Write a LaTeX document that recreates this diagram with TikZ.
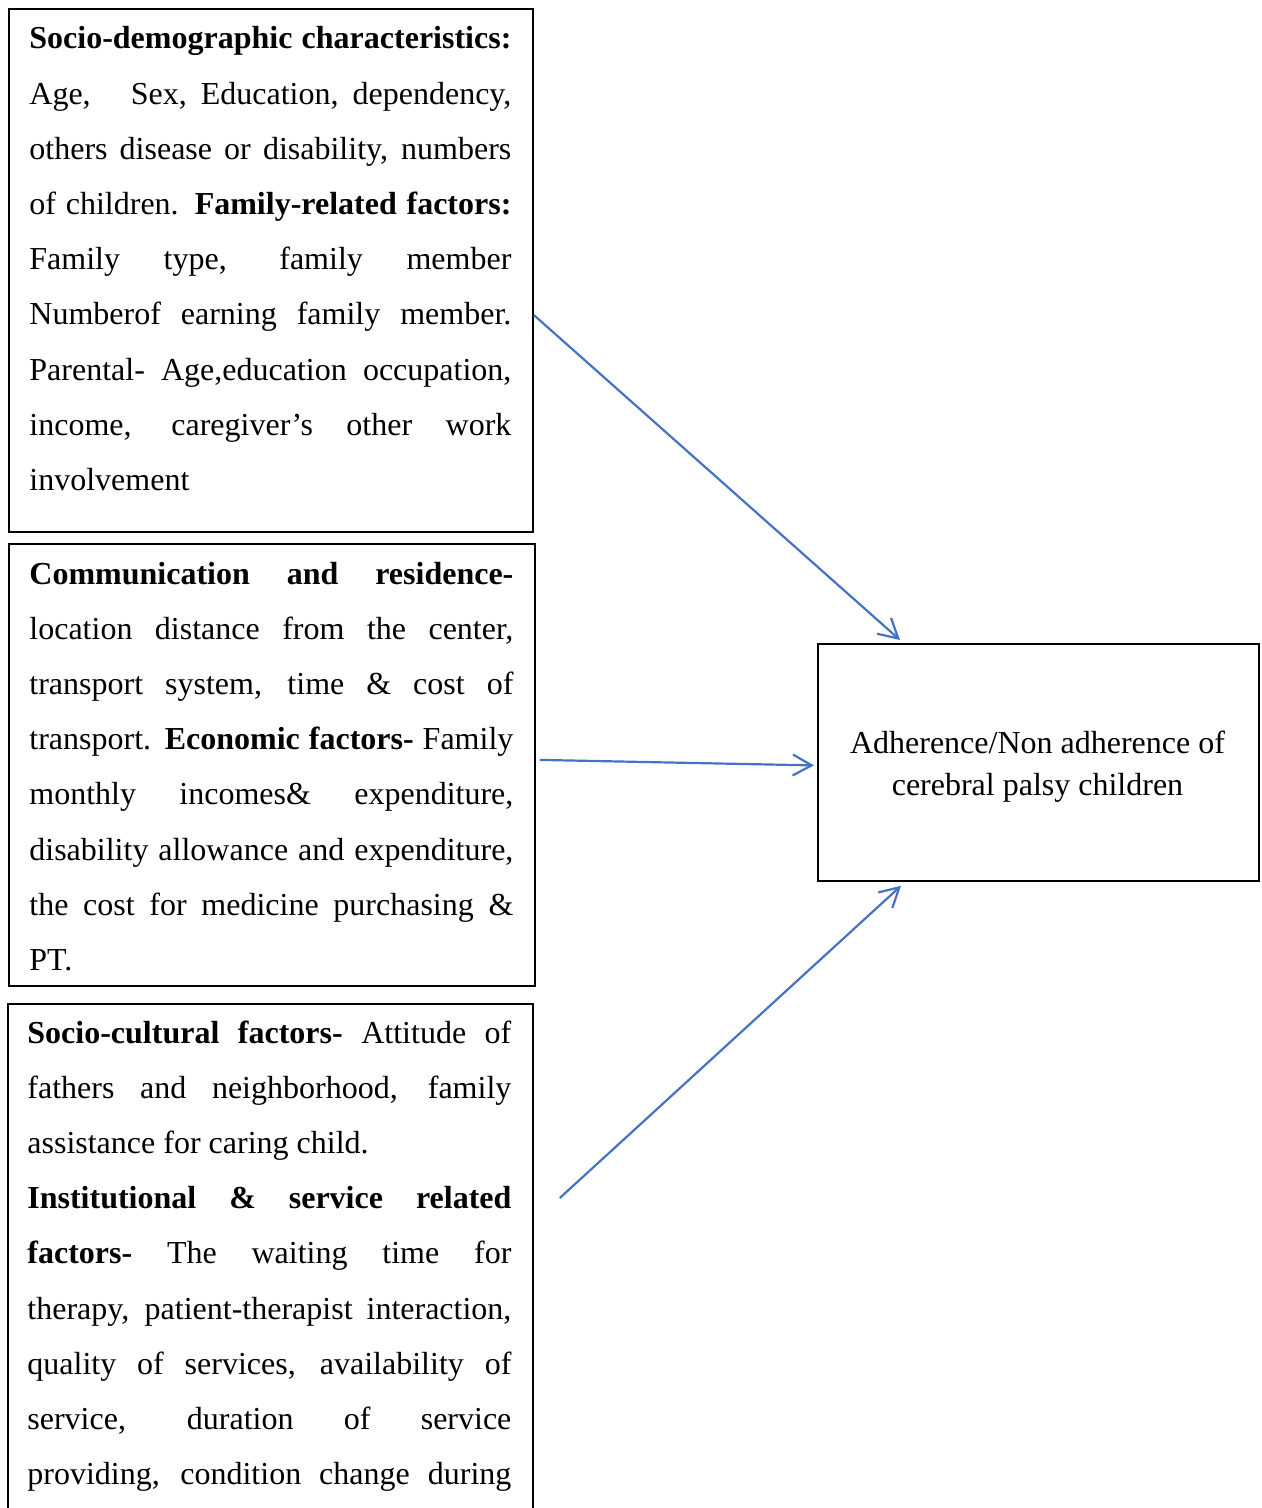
\documentclass[tikz,border=0pt]{standalone}
\usepackage{fontspec}
\setmainfont{Liberation Serif}
\usetikzlibrary{arrows.meta,calc}
\definecolor{arrowblue}{RGB}{68,114,196}
\newcommand\jline[1]{\makebox[\linewidth][s]{#1}}
\newcommand\boxtext[2]{\parbox[t]{#1}{\fontsize{16}{27.6}\selectfont #2}}
\tikzset{
  frame/.style={draw=black, line width=0.9pt, inner sep=0pt, anchor=north west},
  textblock/.style={inner sep=0pt, anchor=base west},
  link/.style={draw=arrowblue, line width=1.1pt, -{Straight Barb[length=9.5pt,width=10.5pt]}},
}
\begin{document}
\begin{tikzpicture}[x=0.5pt,y=-0.5pt]
\useasboundingbox (0,0) rectangle (1262,1508);
\clip (0,0) rectangle (1262,1508);

% frames
\node[frame, minimum width=262pt, minimum height=261.5pt] (b1) at (8,8) {};
\node[frame, minimum width=263pt, minimum height=221pt] (b2) at (8,543) {};
\node[frame, minimum width=262.5pt, minimum height=275pt] (b3) at (7,1003) {};
\node[frame, minimum width=220.5pt, minimum height=118.5pt] (tgt) at (817,643) {};

% texts
\node[textblock] (t1) at (29,49) {\boxtext{241pt}{%
\jline{\textbf{Socio-demographic characteristics:}}\\
\jline{Age,\hspace{13pt} Sex, Education, dependency,}\\
\jline{others disease or disability, numbers}\\
\jline{of children. \textbf{Family-related factors:}}\\
\jline{Family type, family member}\\
\jline{Numberof earning family member.}\\
\jline{Parental- Age,education occupation,}\\
\jline{income, caregiver’s other work}\\
involvement}};

\node[textblock] (t2) at (29,584) {\boxtext{242pt}{%
\jline{\textbf{Communication and residence-}}\\
\jline{location distance from the center,}\\
\jline{transport system, time \& cost of}\\
\jline{transport. \textbf{Economic factors-} Family}\\
\jline{monthly incomes\& expenditure,}\\
\jline{disability allowance and expenditure,}\\
\jline{the cost for medicine purchasing \&}\\
PT.}};

\node[textblock] (t3) at (27,1043) {\boxtext{242pt}{%
\jline{\textbf{Socio-cultural factors-} Attitude of}\\
\jline{fathers and neighborhood, family}\\
assistance for caring child.\\
\jline{\textbf{Institutional \& service related}}\\
\jline{\textbf{factors-} The waiting time for}\\
\jline{therapy, patient-therapist interaction,}\\
\jline{quality of services, availability of}\\
\jline{service, duration of service}\\
\jline{providing, condition change during}}};

\node[inner sep=0pt, anchor=base] (tt) at (1037.5,753) {\parbox[t]{220pt}{\centering\fontsize{16}{21.15}\selectfont
Adherence/Non adherence of\\cerebral palsy children}};

% connectors
\draw[link] ($(b1.north east)+(0,307)$) -- ($(tgt.north west)+(83,-3)$);
\draw[link] ($(b2.east)+(4,-5)$) -- ($(tgt.west)+(-3,3)$);
\draw[link] ($(b3.north east)+(26,195)$) -- ($(tgt.south west)+(84,4)$);
\end{tikzpicture}
\end{document}
